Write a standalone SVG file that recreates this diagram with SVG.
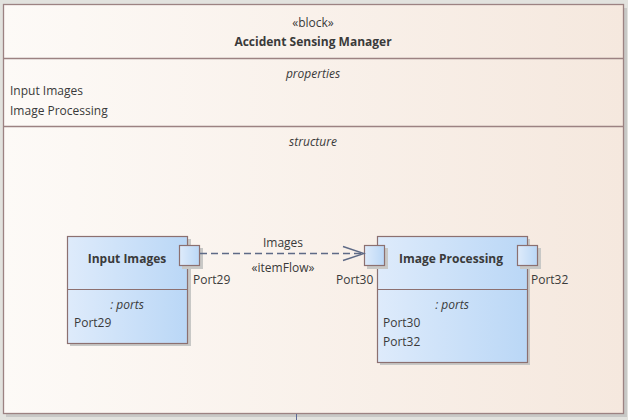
<svg xmlns="http://www.w3.org/2000/svg" width="628" height="420" viewBox="0 0 628 420">
<defs>
<linearGradient id="gOuter" x1="0" y1="0" x2="1" y2="0">
<stop offset="0" stop-color="#fdfaf7"/>
<stop offset="1" stop-color="#f5e8de"/>
</linearGradient>
<linearGradient id="gBlue" x1="0" y1="0" x2="1" y2="0">
<stop offset="0" stop-color="#deebfb"/>
<stop offset="1" stop-color="#bad7f6"/>
</linearGradient>
<marker id="open" markerWidth="24" markerHeight="18" refX="22" refY="9" orient="auto" markerUnits="userSpaceOnUse">
<path d="M1,2 L22,9 L1,16" fill="none" stroke="#5e6a86" stroke-width="1.4"/>
</marker>
</defs>
<style>
text{font-family:"Open Sans","Noto Sans","DejaVu Sans",sans-serif;font-size:12px;fill:#3a3a3a}
.b{font-weight:bold}
.i{font-style:italic}
.m{text-anchor:middle}
.frame{stroke:#9c8282;stroke-width:1.3}
.shadow{fill:#c8c8c6}
.port{fill:url(#gBlue);stroke:#8c7070;stroke-width:1.2}
</style>
<rect x="0" y="0" width="628" height="420" fill="#e2e2de"/>
<g id="block-accident-sensing-manager">
<rect class="shadow" x="6" y="8" width="621" height="409"/>
<rect x="3.5" y="4.5" width="620" height="409" fill="url(#gOuter)" class="frame"/>
<line x1="3.5" y1="58.5" x2="623.5" y2="58.5" class="frame"/>
<line x1="3.5" y1="126.5" x2="623.5" y2="126.5" class="frame"/>
<text x="313" y="27" class="m">«block»</text>
<text x="313" y="46" class="m b">Accident Sensing Manager</text>
<text x="313" y="78" class="m i">properties</text>
<text x="10" y="95">Input Images</text>
<text x="10" y="115">Image Processing</text>
<text x="313" y="146" class="m i">structure</text>
</g>
<line x1="296.5" y1="414" x2="296.5" y2="420" stroke="#5e6a96" stroke-width="1"/>
<g id="part-input-images">
<rect class="shadow" x="70" y="239" width="121" height="107"/>
<rect x="67.5" y="236.5" width="120" height="107" class="port"/>
<line x1="67.5" y1="289.5" x2="187.5" y2="289.5" stroke="#8c7070" stroke-width="1.2"/>
<text x="127" y="263" class="m b">Input Images</text>
<text x="127" y="309" class="m i">: ports</text>
<text x="74" y="327">Port29</text>
</g>
<g id="port-port29">
<rect class="shadow" x="182" y="248" width="21" height="21"/>
<rect x="179.5" y="245.5" width="20" height="20" class="port"/>
<text x="193" y="284">Port29</text>
</g>
<g id="part-image-processing">
<rect class="shadow" x="380" y="239" width="150" height="126"/>
<rect x="377.5" y="236.5" width="150" height="126" class="port"/>
<line x1="377.5" y1="289.5" x2="527.5" y2="289.5" stroke="#8c7070" stroke-width="1.2"/>
<text x="451" y="263" class="m b">Image Processing</text>
<text x="452" y="309" class="m i">: ports</text>
<text x="383" y="327">Port30</text>
<text x="383" y="346">Port32</text>
</g>
<g id="port-port30">
<rect class="shadow" x="367" y="248" width="21" height="21"/>
<rect x="364.5" y="245.5" width="20" height="20" class="port"/>
<text x="336" y="284">Port30</text>
</g>
<g id="port-port32">
<rect class="shadow" x="520" y="248" width="21" height="21"/>
<rect x="517.5" y="245.5" width="20" height="20" class="port"/>
<text x="531" y="284">Port32</text>
</g>
<g id="connectors">
<line x1="200" y1="253.5" x2="364" y2="253.5" stroke="#5e6a86" stroke-width="1.3" stroke-dasharray="7,4" marker-end="url(#open)"/>
<text x="283" y="247" class="m">Images</text>
<text x="283" y="272" class="m">«itemFlow»</text>
</g>
</svg>
